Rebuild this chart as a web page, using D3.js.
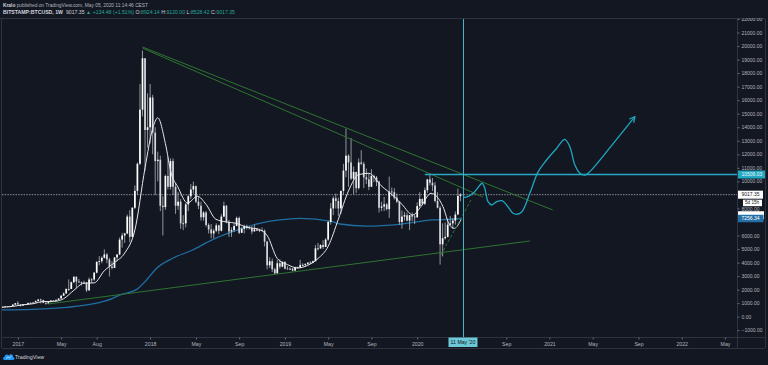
<!DOCTYPE html>
<html><head><meta charset="utf-8">
<script src="https://cdn.jsdelivr.net/npm/d3@7"></script>
<style>
html,body{margin:0;padding:0;background:#131722;}
svg{display:block;}
text{font-family:"Liberation Sans",Arial,sans-serif;}
</style></head><body>
<svg id="c" width="768" height="365"></svg>
<script>
// ---------- DATA ----------
const firstWeek = "2016-11-14";
const firstOpen = 702;
const closes = [
 733,729,766,774,790,890,1000,
 905,820,920,915,1020,995,1050,1150,1270,1230,1020,970,1080,1200,1180,1250,1350,1550,1720,2050,2050,2550,2950,2600,2550,2500,2510,1950,2750,2750,3250,4050,4100,4350,4600,4230,3700,3600,4380,4600,5700,6000,6150,7400,5900,8050,9300,11300,15300,19100,13800,14000,
 16200,13600,11500,11600,8200,8100,10400,9600,11500,9600,8200,8500,6900,6900,8300,8900,9400,9650,8500,8200,7350,7700,6780,6450,6150,6350,6750,6350,7400,8200,7000,6300,6400,6700,7300,6200,6500,6700,6600,6550,6300,6450,6350,6400,6350,5550,3800,4100,3500,3200,3950,3700,4050,
 3550,3530,3550,3410,3650,3620,3830,3830,3900,4000,3990,4100,5050,5050,5300,5150,5700,7000,8000,8750,8550,8000,9300,10800,11900,11400,10200,10700,9500,11400,11300,10300,10150,9600,10400,10300,9980,8050,8150,8300,7950,9250,9200,8800,8500,7000,7400,7500,7100,7500,7400,7350,
 8180,8700,8350,9350,10150,9900,9700,8550,8050,5350,5800,5900,6800,6900,7100,7550,8924.14,9017.35
];
const highs = [
 760,752,780,775,795,935,1000,
 1150,910,925,925,1030,1070,1060,1200,1290,1330,1260,1070,1090,1210,1220,1260,1350,1600,1800,2100,2760,2600,2980,2980,2780,2600,2660,2540,2900,2850,3300,4100,4480,4460,4980,4700,4350,4100,4400,4600,5850,6200,6200,7550,7880,8100,9700,11400,17200,19666,19100,16500,
 17200,16400,14000,12200,11900,8900,10500,11800,11700,11700,9900,9200,8700,7500,8400,9000,9800,9990,9700,8900,8500,7800,7800,6900,6850,6500,6900,6800,7600,8500,8250,7150,6600,6900,7400,7400,6600,6800,6800,6700,6700,6800,6550,6500,6600,6450,5600,4400,4300,3600,4200,4250,4100,
 4100,3750,3650,3600,3700,3700,4200,3950,3950,4000,4100,4150,5300,5450,5350,5650,5800,7100,8400,8900,9100,8800,9300,11300,13900,12000,13200,11100,10700,11700,12300,11450,10950,10600,10900,10500,10400,10050,8500,8850,8400,10350,9550,9500,9100,8550,7850,7750,7700,7500,7700,7550,
 8450,9200,8750,9550,10150,10500,10250,9950,9200,8180,6900,6950,7200,7450,7300,7780,9470,9120
];
const lows = [
 695,723,728,750,762,788,880,
 880,750,810,880,910,930,985,1045,1140,980,1000,890,940,1060,1150,1170,1230,1340,1550,1700,1900,2050,2480,2100,2480,2300,2460,1830,1900,2500,2650,3200,3800,3950,4300,3950,2970,3500,3600,4100,4550,5100,5450,6100,5500,5900,7950,9000,11200,14800,10800,12500,
 12800,12000,9000,10000,7800,6000,7900,9400,9400,9000,7600,7900,6500,6400,6600,7800,8700,9100,8400,7950,7100,7100,6650,6150,5800,5800,6250,6100,6300,7350,6900,5900,5900,6250,6700,6100,6200,6150,6450,6450,6100,6300,6350,6250,6300,5200,3500,3600,3300,3150,3200,3550,3650,
 3500,3500,3450,3350,3380,3550,3600,3700,3670,3800,3900,3950,4100,4900,5000,5000,5150,5600,6800,7500,8000,7450,7600,9000,10300,9600,10100,9050,9150,9400,11200,9500,9800,9350,9600,9950,9650,7700,7800,7800,7850,7300,8900,8650,8400,6800,6500,7100,7050,6400,7050,6850,
 7300,8100,8250,8250,9150,9700,9300,8450,8000,3850,4450,5700,5850,6750,6500,6800,7550,8528.42
];

// short moving average (white)
const whiteMADates = ["2016-11-14","2016-12-19","2017-01-16","2017-02-13","2017-03-13","2017-04-10","2017-05-08","2017-06-05","2017-07-03","2017-07-31","2017-08-28","2017-09-25","2017-10-23","2017-11-20","2017-12-18","2018-01-08","2018-01-22","2018-02-12","2018-02-28","2018-03-18","2018-04-14","2018-05-11","2018-06-04","2018-07-01","2018-07-30","2018-08-27","2018-09-24","2018-10-22","2018-11-19","2018-12-17","2019-01-14","2019-02-11","2019-03-11","2019-04-08","2019-05-06","2019-06-03","2019-07-01","2019-07-29","2019-08-26","2019-09-28","2019-11-04","2019-11-25","2019-12-25","2020-01-16","2020-02-13","2020-03-17","2020-04-04","2020-04-17","2020-05-06"];
const whiteMAValues = [690,760,880,960,1120,1130,1330,1950,2480,2500,3400,4000,4700,6400,11000,13900,14700,12800,10600,9600,8400,8900,8300,7200,7000,6900,6600,6500,6000,4300,3850,3600,3800,4300,5200,7200,9300,10500,10600,9700,8870,8300,7520,8130,9120,8130,6780,6530,7200];

// long moving average (blue)
const blueMADates = ["2016-11-14","2017-02-12","2017-05-16","2017-07-27","2017-09-20","2017-10-09","2017-11-25","2017-12-22","2018-01-19","2018-03-04","2018-04-28","2018-06-22","2018-08-16","2018-10-29","2018-12-23","2019-02-16","2019-05-18","2019-06-07","2019-08-20","2019-11-19","2020-02-17","2020-04-04","2020-05-07"];
const blueMAValues = [500,545,690,940,1360,1600,2020,2710,3580,4320,4930,5700,6280,6900,7150,7270,7020,6850,6700,6830,7150,7200,7256];

// drawn trend lines: [startDate, startPrice], [endDate, endPrice]
const resistanceA = [["2017-12-11",19930],["2021-01-13",7886]];
const resistanceB = [["2017-12-11",19850],["2020-07-05",8850]];
const supportLine = [["2017-03-26",939],["2020-11-11",5595]];
const dashedLine  = [["2020-03-11",4560],["2020-06-02",8625]];

// projection path drawn by the author
const projDates  = ["2020-05-11","2020-05-17","2020-06-08","2020-06-27","2020-07-03","2020-07-10","2020-07-19","2020-07-29","2020-08-12","2020-08-26","2020-09-08","2020-09-26","2020-10-06","2020-10-20","2020-11-11","2020-12-04","2020-12-27","2021-01-24","2021-02-15","2021-03-01","2021-03-15","2021-03-29","2021-04-12","2021-04-25","2021-06-25","2021-08-27"];
const projPrices = [8870,8825,9120,9735,9860,9490,8500,8255,8500,8575,8255,7640,7570,7760,9120,10720,11580,12450,13110,12560,11210,10600,10470,10720,12680,14780];

const levelStart = "2020-01-27";
const levelPrice = 10506.03;
const markerDate = "2020-05-11";
const markerLabel = "11 May '20";
const lastPrice = 9017.35;
const countdown = "5d 15h";
const blueLast = 7256.34;
const whiteLabelValue = 7500;

const yTicks = [-1000,0,1000,2000,3000,4000,5000,6000,8000,10000,11000,12000,13000,14000,15000,16000,17000,18000,19000,20000,21000,22000];
const xTickDates = ["2017-01-02","2017-05-01","2017-08-07","2018-01-01","2018-05-07","2018-09-03","2019-01-07","2019-05-06","2019-09-02","2020-01-06","2020-09-07","2021-01-04","2021-05-03","2021-09-06","2022-01-03","2022-05-02"];
const xTickLabels = ["2017","May","Aug","2018","May","Sep","2019","May","Sep","2020","Sep","2021","May","Sep","2022","May"];

const headerLine1 = [["Kralo","b"],[" published on TradingView.com, May 05, 2020 11:14:46 CEST","m"]];
const headerLine2 = [["BITSTAMP:BTCUSD, 1W","b"],["  9017.35 ","w"],["\u25B2 +134.48 (+1.51%)","g"],[" O:","w"],["8924.14","g"],[" H:","w"],["9120.00","g"],[" L:","w"],["8528.42","g"],[" C:","w"],["9017.35","g"]];

// ---------- CHART ----------
const parse = d3.utcParse("%Y-%m-%d");
const W = 768, H = 365;
const plotL = 2, plotR = 737, plotT = 19, plotB = 337, axisR = 765, axisB = 348;
const bg = "#131722", border = "#2f3340", txt = "#b2b5be";

const svg = d3.select("#c");
svg.append("rect").attr("width", W).attr("height", H).attr("fill", bg);

const x = d3.scaleUtc()
  .domain([Date.UTC(2017,0,1), Date.UTC(2022,0,1)])
  .range([17.5, 681]);
const y = d3.scaleLinear().domain([-1500, 22000]).range([plotB, plotT]);

const defs = svg.append("defs");
defs.append("clipPath").attr("id","plot").append("rect")
  .attr("x", plotL).attr("y", plotT).attr("width", plotR-plotL).attr("height", plotB-plotT);
defs.append("clipPath").attr("id","yax").append("rect")
  .attr("x", plotR).attr("y", 18).attr("width", axisR-plotR).attr("height", plotB-18);

// header: pieces laid out one after another, scaled to the target width
function headerLine(parts, yPos, targetW){
  const g = svg.append("g");
  const nodes = parts.map(([t,k]) => g.append("text")
      .attr("y", yPos).attr("font-size", 5.4).style("white-space","pre")
      .attr("font-weight", k==="b" ? "bold" : null)
      .attr("fill", k==="g" ? "#26a69a" : (k==="m" ? "#b2b5be" : "#d1d4dc"))
      .text(t));
  const widths = nodes.map(n => n.node().getComputedTextLength());
  const k = targetW / d3.sum(widths);
  let cx = 3;
  nodes.forEach((n,i) => { n.attr("x", cx).attr("font-size", 5.4*k); cx += widths[i]*k; });
}
headerLine(headerLine1, 6.6, 145);
headerLine(headerLine2, 13.8, 232);

// frame
const frame = svg.append("g").attr("stroke", border).attr("stroke-width", 1).attr("fill","none");
frame.append("line").attr("x1",0).attr("x2",axisR).attr("y1",plotT-0.5).attr("y2",plotT-0.5);
frame.append("line").attr("x1",plotL-0.5).attr("x2",plotL-0.5).attr("y1",plotT).attr("y2",axisB);
frame.append("line").attr("x1",plotR+0.5).attr("x2",plotR+0.5).attr("y1",plotT).attr("y2",axisB);
frame.append("line").attr("x1",axisR+0.5).attr("x2",axisR+0.5).attr("y1",plotT).attr("y2",axisB);
frame.append("line").attr("x1",plotL).attr("x2",axisR).attr("y1",plotB+0.5).attr("y2",plotB+0.5);
frame.append("line").attr("x1",plotL).attr("x2",axisR).attr("y1",axisB+0.5).attr("y2",axisB+0.5);

const plot = svg.append("g").attr("clip-path","url(#plot)");

// current price dotted line
plot.append("line").attr("x1",plotL).attr("x2",plotR)
  .attr("y1", y(lastPrice)).attr("y2", y(lastPrice))
  .attr("stroke","#8a8d97").attr("stroke-width",1).attr("stroke-dasharray","1.5,1.2");

// blue MA
const pLine = d3.line().x(d=>x(d[0])).y(d=>y(d[1])).curve(d3.curveMonotoneX);
plot.append("path")
  .datum(blueMADates.map((d,i)=>[parse(d), blueMAValues[i]]))
  .attr("d", pLine).attr("fill","none").attr("stroke","#1f6ea3").attr("stroke-width",1.3);

// candles
const start = parse(firstWeek);
const bars = closes.map((c,i)=>({
  date: d3.utcDay.offset(start, 7*i),
  o: i===0 ? firstOpen : closes[i-1], h: highs[i], l: lows[i], c
}));
const bw = 1.7;
const cg = plot.append("g");
cg.selectAll("line.w").data(bars).join("line")
  .attr("x1", d=>x(d.date)).attr("x2", d=>x(d.date))
  .attr("y1", d=>y(d.h)).attr("y2", d=>y(d.l))
  .attr("stroke","#c9ccd3").attr("stroke-width",0.7);
cg.selectAll("rect").data(bars).join("rect")
  .attr("x", d=>x(d.date)-bw/2).attr("width", bw)
  .attr("y", d=>y(Math.max(d.o,d.c)))
  .attr("height", d=>Math.max(0.8, Math.abs(y(d.o)-y(d.c))))
  .attr("fill", d=> d.c>=d.o ? "#ffffff" : "#d4d6dc");

// white MA
plot.append("path")
  .datum(whiteMADates.map((d,i)=>[parse(d), whiteMAValues[i]]))
  .attr("d", pLine).attr("fill","none").attr("stroke","#e8e8ea").attr("stroke-width",1);

// trend lines
const green = "#2e7431";
[resistanceA, resistanceB, supportLine].forEach(seg=>{
  plot.append("line")
    .attr("x1", x(parse(seg[0][0]))).attr("y1", y(seg[0][1]))
    .attr("x2", x(parse(seg[1][0]))).attr("y2", y(seg[1][1]))
    .attr("stroke", green).attr("stroke-width", 1);
});
plot.append("line")
  .attr("x1", x(parse(dashedLine[0][0]))).attr("y1", y(dashedLine[0][1]))
  .attr("x2", x(parse(dashedLine[1][0]))).attr("y2", y(dashedLine[1][1]))
  .attr("stroke", green).attr("stroke-width", 1).attr("stroke-dasharray","3,2");

// level line
plot.append("line")
  .attr("x1", x(parse(levelStart))).attr("x2", plotR)
  .attr("y1", y(levelPrice)).attr("y2", y(levelPrice))
  .attr("stroke","#27a9c1").attr("stroke-width",1.4);

// vertical marker
const mx = Math.round(x(parse(markerDate))) + 0.5;
plot.append("line").attr("x1",mx).attr("x2",mx).attr("y1",plotT).attr("y2",plotB)
  .attr("stroke","#45b4c7").attr("stroke-width",1);

// projection
const proj = projDates.map((d,i)=>[x(parse(d)), y(projPrices[i])]);
plot.append("path").datum(proj)
  .attr("d", d3.line().curve(d3.curveCatmullRom.alpha(0.5)))
  .attr("fill","none").attr("stroke","#1fa6c0").attr("stroke-width",1.3);
{
  const [tx,ty] = proj[proj.length-1], [px,py] = proj[proj.length-2];
  const ang = Math.atan2(ty-py, tx-px), L = 6;
  const a1 = ang + Math.PI - 0.5, a2 = ang + Math.PI + 0.5;
  plot.append("path")
    .attr("d", `M${tx+L*Math.cos(a1)},${ty+L*Math.sin(a1)}L${tx},${ty}L${tx+L*Math.cos(a2)},${ty+L*Math.sin(a2)}`)
    .attr("fill","none").attr("stroke","#1fa6c0").attr("stroke-width",1.3);
}

// y axis (labels hidden behind the price boxes are not drawn)
const yax = svg.append("g").attr("clip-path","url(#yax)").append("g")
  .attr("transform",`translate(${plotR+0.5},0)`)
  .call(d3.axisRight(y).tickValues(yTicks).tickFormat(d3.format(".2f")).tickSize(2).tickPadding(2));
yax.select(".domain").remove();
yax.selectAll("line").attr("stroke","#6a6d78");
yax.selectAll("text").attr("fill", txt).attr("font-size", 5).attr("font-family","Liberation Sans, Arial, sans-serif");

// x axis
const xax = svg.append("g").attr("transform",`translate(0,${plotB+0.5})`)
  .call(d3.axisBottom(x).tickValues(xTickDates.map(parse)).tickFormat((d,i)=>xTickLabels[i]).tickSize(2).tickPadding(3));
xax.select(".domain").remove();
xax.selectAll("line").attr("stroke","#6a6d78");
xax.selectAll("text").attr("fill", txt).attr("font-size", 5.2).attr("font-family","Liberation Sans, Arial, sans-serif");

// price labels on the axis
function priceBox(val, fill, color, label, x0, w, h){
  const cy = y(val);
  svg.append("rect").attr("x", x0).attr("y", cy-h/2).attr("width", w).attr("height", h).attr("fill", fill);
  if (label) svg.append("text").attr("x", x0+3.5).attr("y", cy+1.8).attr("font-size",5)
    .attr("fill", color).text(label);
}
priceBox(levelPrice, "#22a8c2", "#e8f6f9", d3.format(".2f")(levelPrice), plotR+1, 27, 8);
priceBox(lastPrice, "#ffffff", "#131722", d3.format(".2f")(lastPrice), plotR+1, 25, 8);
{
  const cy = y(lastPrice) + 8;
  svg.append("rect").attr("x", plotR+6).attr("y", cy-3).attr("width", 19).attr("height", 6.5).attr("fill","#ffffff");
  svg.append("text").attr("x", plotR+8).attr("y", cy+1.8).attr("font-size",4.6).attr("fill","#131722").text(countdown);
}
priceBox(whiteLabelValue, "#ffffff", "#131722", null, plotR+1, 26, 8);
priceBox(blueLast, "#2470a6", "#ffffff", d3.format(".2f")(blueLast), plotR+1, 25.5, 7.5);

// date marker label
{
  const w = 29, cx = x(parse(markerDate));
  svg.append("rect").attr("x", cx-w/2).attr("y", plotB+0.5).attr("width", w).attr("height", 9.5).attr("fill","#6cc7d6");
  svg.append("text").attr("x", cx).attr("y", plotB+7.3).attr("text-anchor","middle")
    .attr("font-size",5.2).attr("fill","#131722").text(markerLabel);
}

// TradingView logo
{
  const g = svg.append("g").attr("transform","translate(3,353)");
  g.append("path").attr("d","M1.5,7 C-0.5,7 -0.5,4 1.5,4 C1.5,1.5 4.5,0.5 6,2.5 C7,0.5 10.5,1 10,4 C12,4 12,7 10,7 Z")
    .attr("fill","#2196f3");
  g.append("path").attr("d","M3,5.5 L5,3.8 L6.5,5 L8.5,3.2").attr("stroke","#ffffff").attr("stroke-width",0.7).attr("fill","none");
  svg.append("text").attr("x", 15).attr("y", 359).attr("font-size", 5.3).attr("fill","#d1d4dc").text("TradingView");
}
</script>
</body></html>
